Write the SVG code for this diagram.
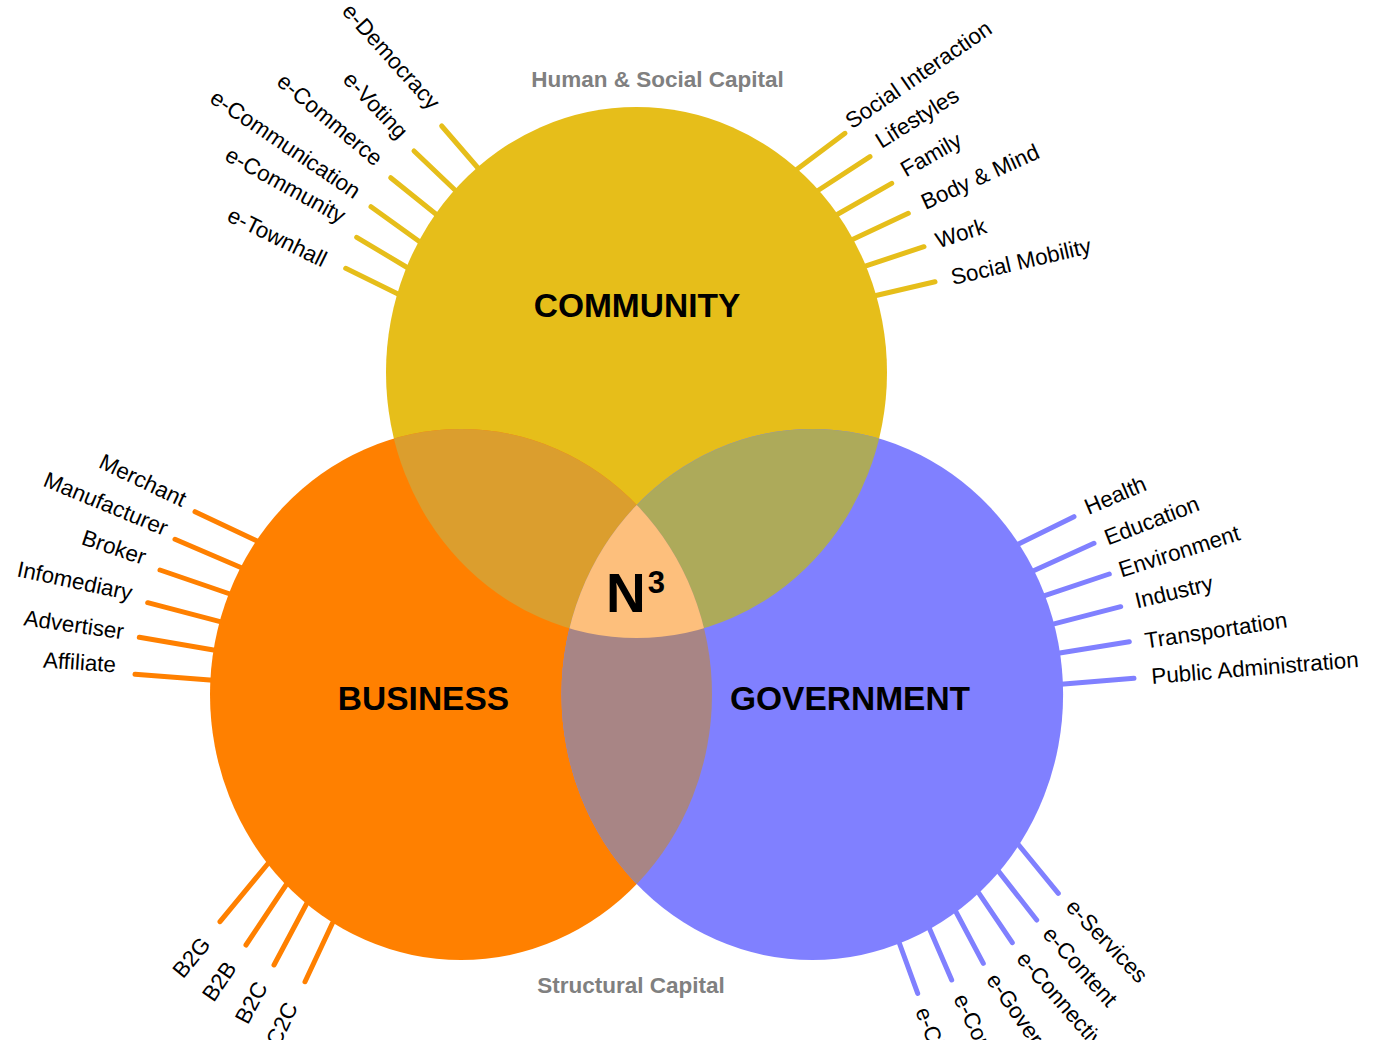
<svg xmlns="http://www.w3.org/2000/svg" width="1378" height="1040" viewBox="0 0 1378 1040">
<style>
.lbl{font-family:"Liberation Sans",Arial,Helvetica,sans-serif;font-size:22.4px;fill:#000}
.end{text-anchor:end}
.t{stroke-width:5;stroke-linecap:round;fill:none}
.ty{stroke:#E6BE1A}.to{stroke:#FF8000}.tb{stroke:#8080FF}
.main{font-family:"Liberation Sans",Arial,Helvetica,sans-serif;font-weight:bold;font-size:33.5px;text-anchor:middle;fill:#000}
.cap{font-family:"Liberation Sans",Arial,Helvetica,sans-serif;font-weight:bold;font-size:22.5px;text-anchor:middle;fill:#808080}
</style>
<defs>
<ellipse id="eC" cx="636.5" cy="372.5" rx="250.5" ry="265.5"/>
<ellipse id="eB" cx="461" cy="694.5" rx="251" ry="265.5"/>
<ellipse id="eG" cx="812.3" cy="694.5" rx="250.8" ry="265.5"/>
<clipPath id="cC"><use href="#eC"/></clipPath>
<clipPath id="cB"><use href="#eB"/></clipPath>
<clipPath id="cG"><use href="#eG"/></clipPath>
</defs>
<rect width="1378" height="1040" fill="#fff"/>

<g id="connectors">
<g class="t ty">
<line x1="441.7" y1="126" x2="478" y2="168"/>
<line x1="414" y1="151" x2="456" y2="191"/>
<line x1="390.7" y1="177.7" x2="437" y2="215"/>
<line x1="371" y1="206.7" x2="420" y2="242"/>
<line x1="356.7" y1="237.3" x2="408" y2="268"/>
<line x1="345.7" y1="268.3" x2="399" y2="294.5"/>
<line x1="796" y1="170" x2="845" y2="133.3"/>
<line x1="818" y1="190.5" x2="870" y2="156.7"/>
<line x1="838" y1="214" x2="891.7" y2="183.3"/>
<line x1="853" y1="239.3" x2="908.3" y2="213.3"/>
<line x1="866" y1="265.8" x2="924" y2="246.7"/>
<line x1="876" y1="295.5" x2="935" y2="281.7"/>
</g>
<g class="t to">
<line x1="195" y1="511.7" x2="257" y2="541"/>
<line x1="175" y1="539.3" x2="242" y2="568"/>
<line x1="160" y1="570" x2="230" y2="594"/>
<line x1="147.7" y1="602.7" x2="222" y2="622.2"/>
<line x1="139.3" y1="637.3" x2="215" y2="650.3"/>
<line x1="135" y1="674.3" x2="213" y2="680.2"/>
<line x1="220" y1="921.7" x2="268" y2="863.5"/>
<line x1="246" y1="945" x2="286" y2="885"/>
<line x1="274" y1="965" x2="307" y2="903"/>
<line x1="305" y1="981.7" x2="332.5" y2="923"/>
</g>
<g class="t tb">
<line x1="1018" y1="544.3" x2="1074" y2="516.7"/>
<line x1="1033" y1="571" x2="1094" y2="543.3"/>
<line x1="1044.7" y1="595.7" x2="1109.3" y2="574"/>
<line x1="1054" y1="623.8" x2="1120.7" y2="606.7"/>
<line x1="1059.7" y1="653" x2="1129.3" y2="641.7"/>
<line x1="1061" y1="684.2" x2="1134" y2="678.3"/>
<line x1="1018.7" y1="845" x2="1058.3" y2="893.3"/>
<line x1="998.8" y1="871.6" x2="1036.7" y2="920"/>
<line x1="979" y1="893.3" x2="1012.3" y2="942.7"/>
<line x1="955.8" y1="911.5" x2="983.3" y2="963.3"/>
<line x1="929.2" y1="928" x2="951.7" y2="980"/>
<line x1="899.3" y1="943" x2="917.7" y2="993.3"/>
</g>
</g>

<g id="community"><use href="#eC" fill="#E6BE1A"/><text class="main" x="637" y="317">COMMUNITY</text></g>
<g id="business"><use href="#eB" fill="#FF8000"/><text class="main" x="423.5" y="710">BUSINESS</text></g>
<g id="government"><use href="#eG" fill="#8080FF"/><text class="main" x="850" y="710">GOVERNMENT</text></g>

<g id="overlaps">
<g clip-path="url(#cB)"><use href="#eC" fill="#DB9E2E"/></g>
<g clip-path="url(#cG)"><use href="#eC" fill="#ADAA5A"/></g>
<g clip-path="url(#cG)"><use href="#eB" fill="#A88585"/></g>
<g clip-path="url(#cG)"><g clip-path="url(#cB)"><use href="#eC" fill="#FDBF7C"/></g></g>
</g>

<g id="n3"><text x="606" y="612" font-family="Liberation Sans, Arial, sans-serif" font-weight="bold" font-size="55" fill="#000">N<tspan dx="2" dy="-19" font-size="31">3</tspan></text></g>

<g id="captions">
<text class="cap" x="657.5" y="87">Human &amp; Social Capital</text>
<text class="cap" x="631" y="993">Structural Capital</text>
</g>

<g id="community-labels" class="lbl">
<text class="end" transform="translate(430,111) rotate(48)">e-Democracy</text>
<text class="end" transform="translate(398.4,140.2) rotate(46.5)">e-Voting</text>
<text class="end" transform="translate(374.6,166.9) rotate(40)">e-Commerce</text>
<text class="end" transform="translate(353.9,199.5) rotate(34)">e-Communication</text>
<text class="end" transform="translate(340,224) rotate(29)">e-Community</text>
<text class="end" transform="translate(322,267.5) rotate(26)">e-Townhall</text>
<text transform="translate(852,129.5) rotate(-34.5)">Social Interaction</text>
<text transform="translate(881.5,149) rotate(-32)">Lifestyles</text>
<text transform="translate(906,177.5) rotate(-29.5)">Family</text>
<text transform="translate(925.5,210) rotate(-24.5)">Body &amp; Mind</text>
<text transform="translate(938.5,248.5) rotate(-18)">Work</text>
<text transform="translate(953,285) rotate(-13)">Social Mobility</text>
</g>

<g id="business-labels" class="lbl">
<text class="end" transform="translate(181.7,507.3) rotate(25.5)">Merchant</text>
<text class="end" transform="translate(164,536) rotate(22.5)">Manufacturer</text>
<text class="end" transform="translate(142.7,565) rotate(18.6)">Broker</text>
<text class="end" transform="translate(130.5,600.5) rotate(12)">Infomediary</text>
<text class="end" transform="translate(122.7,639.3) rotate(8)">Advertiser</text>
<text class="end" transform="translate(115.5,672.3) rotate(3.8)">Affiliate</text>
<text class="end" transform="translate(211.5,945) rotate(-50.5)">B2G</text>
<text class="end" transform="translate(237.3,968) rotate(-56)">B2B</text>
<text class="end" transform="translate(268.3,987) rotate(-62)">B2C</text>
<text class="end" transform="translate(298.3,1006.8) rotate(-65)">C2C</text>
</g>

<g id="government-labels" class="lbl">
<text transform="translate(1088.5,515) rotate(-23)">Health</text>
<text transform="translate(1108,545.5) rotate(-21)">Education</text>
<text transform="translate(1121.5,577.5) rotate(-17.5)">Environment</text>
<text transform="translate(1137,608.5) rotate(-13.5)">Industry</text>
<text transform="translate(1146,648.5) rotate(-8.5)">Transportation</text>
<text transform="translate(1152,684) rotate(-4.7)">Public Administration</text>
<text transform="translate(1064.7,908.1) rotate(46)">e-Services</text>
<text transform="translate(1041.5,935) rotate(48)">e-Content</text>
<text transform="translate(1015.5,959.5) rotate(49)">e-Connectivity</text>
<text transform="translate(985.5,980) rotate(55)">e-Governance</text>
<text transform="translate(953,998.5) rotate(64)">e-Consultation</text>
<text transform="translate(914.9,1011.1) rotate(68)">e-Citizenship</text>
</g>
</svg>
